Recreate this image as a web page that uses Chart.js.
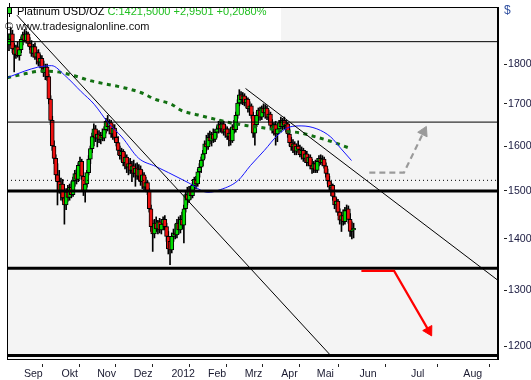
<!DOCTYPE html>
<html><head><meta charset="utf-8">
<script src="https://cdn.jsdelivr.net/npm/chart.js@4/dist/chart.umd.min.js"></script>
<style>html,body{margin:0;padding:0;background:#fff}</style>
</head><body><canvas id="c" width="531" height="380"></canvas>
<script>
// ---- DATA ----
// daily candles [open, high, low, close], x = bar index
const ohlc = [
[1850,1880,1835,1865],[1865,1897,1850,1880],[1880,1890,1830,1840],[1840,1855,1780,1825],[1825,1850,1815,1845],
[1845,1858,1818,1822],[1822,1845,1810,1838],[1838,1872,1830,1865],[1865,1885,1850,1878],[1878,1892,1858,1862],
[1862,1888,1855,1880],[1880,1885,1848,1855],[1855,1870,1838,1845],[1845,1862,1820,1828],[1828,1852,1818,1846],
[1846,1856,1812,1818],[1818,1836,1800,1830],[1830,1838,1795,1805],[1805,1825,1790,1815],[1815,1822,1780,1790],
[1790,1808,1768,1778],[1778,1800,1760,1792],[1792,1800,1758,1768],[1768,1775,1700,1712],[1712,1720,1650,1660],
[1660,1670,1590,1600],[1600,1612,1560,1572],[1572,1580,1525,1535],[1535,1560,1470,1520],[1520,1545,1495,1500],
[1500,1528,1480,1515],[1515,1525,1478,1485],[1485,1500,1430,1470],[1470,1505,1460,1498],[1498,1512,1478,1486],
[1486,1515,1480,1508],[1508,1520,1485,1492],[1492,1530,1488,1522],[1522,1545,1510,1538],[1538,1548,1515,1525],
[1525,1562,1520,1556],[1556,1575,1540,1565],[1565,1570,1525,1532],[1532,1540,1490,1500],[1500,1525,1476,1515],
[1515,1545,1508,1540],[1540,1578,1535,1570],[1570,1600,1560,1594],[1594,1630,1585,1622],[1622,1652,1600,1640],
[1640,1648,1610,1618],[1618,1635,1598,1628],[1628,1636,1608,1615],[1615,1632,1605,1625],[1625,1640,1612,1618],
[1618,1645,1612,1638],[1638,1665,1630,1658],[1658,1672,1635,1645],[1645,1662,1628,1655],[1655,1660,1620,1628],
[1628,1650,1615,1642],[1642,1650,1612,1620],[1620,1635,1600,1608],[1608,1622,1580,1590],[1590,1600,1570,1578],
[1578,1595,1565,1588],[1588,1592,1555,1562],[1562,1585,1548,1575],[1575,1580,1540,1552],[1552,1570,1535,1560],
[1560,1572,1538,1545],[1545,1565,1520,1555],[1555,1568,1530,1538],[1538,1560,1510,1550],[1550,1562,1525,1532],
[1532,1558,1522,1548],[1548,1555,1512,1520],[1520,1545,1505,1535],[1535,1540,1500,1508],[1508,1530,1498,1518],
[1518,1522,1492,1500],[1500,1505,1455,1462],[1462,1470,1415,1425],[1425,1438,1375,1410],[1410,1440,1402,1432],
[1432,1445,1415,1420],[1420,1438,1410,1435],[1435,1442,1412,1418],[1418,1440,1410,1430],[1430,1445,1418,1440],
[1440,1448,1418,1425],[1425,1432,1395,1405],[1405,1415,1370,1380],[1395,1405,1349,1378],[1378,1412,1372,1405],
[1405,1420,1395,1412],[1412,1430,1400,1408],[1408,1440,1402,1432],[1432,1445,1410,1418],[1418,1448,1412,1440],
[1440,1455,1420,1428],[1428,1470,1392,1462],[1462,1500,1455,1492],[1492,1508,1470,1480],[1480,1510,1475,1502],
[1502,1510,1482,1490],[1490,1518,1485,1512],[1512,1530,1500,1525],[1525,1532,1505,1515],[1515,1548,1510,1542],
[1542,1560,1530,1552],[1552,1575,1540,1568],[1568,1590,1555,1582],[1582,1612,1572,1605],[1605,1625,1590,1598],
[1598,1630,1592,1620],[1620,1635,1605,1612],[1612,1632,1600,1628],[1628,1640,1608,1615],[1615,1638,1610,1632],
[1632,1645,1620,1640],[1640,1658,1630,1650],[1650,1662,1632,1640],[1640,1660,1630,1652],[1652,1658,1625,1632],
[1632,1648,1620,1640],[1640,1645,1615,1622],[1622,1640,1600,1630],[1630,1642,1602,1612],[1612,1650,1608,1645],
[1645,1660,1630,1638],[1638,1680,1632,1672],[1672,1710,1665,1702],[1702,1735,1695,1722],[1722,1730,1700,1710],
[1710,1728,1698,1720],[1720,1725,1695,1702],[1702,1718,1690,1712],[1712,1715,1680,1688],[1688,1705,1672,1695],
[1695,1700,1665,1672],[1672,1680,1620,1630],[1630,1660,1602,1650],[1650,1680,1645,1672],[1672,1690,1660,1685],
[1685,1692,1660,1668],[1668,1695,1662,1690],[1690,1700,1672,1678],[1678,1698,1665,1690],[1690,1695,1662,1668],
[1668,1685,1655,1675],[1675,1680,1640,1648],[1648,1662,1630,1638],[1638,1655,1625,1650],[1650,1658,1602,1628],
[1628,1645,1610,1640],[1640,1660,1632,1655],[1655,1668,1640,1645],[1645,1665,1638,1660],[1660,1668,1640,1648],
[1648,1660,1632,1652],[1652,1655,1620,1628],[1628,1640,1600,1608],[1608,1620,1590,1598],[1598,1615,1585,1605],
[1605,1610,1580,1588],[1588,1605,1580,1600],[1600,1612,1585,1592],[1592,1602,1575,1580],[1580,1598,1570,1590],
[1590,1595,1565,1572],[1572,1590,1562,1582],[1582,1588,1555,1562],[1562,1580,1555,1575],[1575,1580,1548,1555],
[1555,1570,1538,1548],[1548,1565,1540,1560],[1560,1568,1540,1545],[1545,1572,1540,1565],[1565,1578,1555,1572],
[1572,1580,1558,1562],[1562,1578,1555,1570],[1570,1575,1550,1555],[1555,1562,1530,1538],[1538,1548,1515,1522],
[1522,1532,1500,1508],[1508,1520,1490,1512],[1512,1515,1480,1488],[1488,1495,1462,1470],[1470,1485,1455,1478],
[1478,1482,1448,1455],[1455,1462,1430,1438],[1438,1455,1415,1448],[1448,1460,1428,1435],[1435,1465,1430,1458],
[1458,1470,1440,1462],[1462,1468,1432,1440],[1440,1452,1405,1415],[1415,1435,1400,1418],[1418,1432,1402,1421.5]
];
const monthLabels = ['Sep','Okt','Nov','Dez','2012','Feb','Mrz','Apr','Mai','Jun','Jul','Aug'];
const monthPos    = [8.6, 30.3, 50.9, 72.0, 93.8, 114.9, 136.1, 157.2, 177.8, 202.4, 232.1, 262.4];
const yTicks = [1200,1300,1400,1500,1600,1700,1800];
// moving averages [x, value]
const maBlue = [[-1.1,1765],[9.1,1782],[16.6,1792],[24.6,1796],[32.0,1772],[41.7,1730],[49.2,1699],[57.7,1652],
  [65.2,1621],[74.9,1572],[84.6,1554],[92.1,1540],[103.5,1518],[114.9,1497],[120.6,1501],[132.1,1522],[139.5,1556],
  [147.5,1590],[154.9,1624],[161.8,1644],[168.7,1647],[177.8,1640],[185.8,1621],[191.5,1595],[197.8,1567]];
const maGreen = [[-1.1,1765],[9.1,1775],[18.9,1782],[28.0,1780],[37.7,1770],[47.5,1757],[66.3,1740],[76.0,1728],
  [84.6,1711],[93.8,1699],[99.5,1684],[109.2,1673],[118.9,1663],[128.1,1654],[138.4,1647],[147.5,1642],[157.8,1635],
  [167.5,1631],[177.2,1621],[186.4,1610],[196.1,1596]];
// horizontal levels
const levelsThin  = [1859, 1656];
const levelsThick = [1500, 1342, 1184];
const levelDotted = [1523];
// trend lines [x, value]
const trendA = [[4.6,1931],[186.4,1182]];
const trendB = [[136.6,1738],[282.4,1319]];
// scenario arrows [x, value]
const arrowUp   = [[208.1,1540],[228.1,1540],[239.5,1633]];
const arrowDown = [[203.5,1337],[222.4,1337],[242.4,1227]];
const titleText = 'Platinum USD/OZ';
const quoteText = 'C:1421,5000 +2,9501 +0,2080%';
const sourceText = '\u00A9 www.tradesignalonline.com';
const unitText = '$';

// ---- CHART ----
const X_MIN = -1.15, X_MAX = 282.4, Y_MIN = 1178, Y_MAX = 1954;
const FONT = '"Liberation Sans", Arial, sans-serif';
const pts = a => a.map(p => ({x: p[0], y: p[1]}));
const hline = v => [{x: X_MIN, y: v}, {x: X_MAX, y: v}];

const wicks = ohlc.map((c, i) => ({x: i, y: [c[2], c[1]]}));
const bodies = ohlc.map((c, i) => ({x: i, y: [Math.min(c[0], c[3]), Math.max(c[0], c[3])]}));
const bodyColors = ohlc.map(c => c[3] >= c[0] ? '#00dd00' : '#ee1111');

const datasets = [];
levelsThin.forEach(v => datasets.push({type:'line', data: hline(v), borderColor:'#000', borderWidth:1, pointRadius:0, order:1}));
levelsThick.forEach(v => datasets.push({type:'line', data: hline(v), borderColor:'#000', borderWidth:3, pointRadius:0, order:1}));
levelDotted.forEach(v => datasets.push({type:'line', data: hline(v), borderColor:'#000', borderWidth:1, borderDash:[1,3], pointRadius:0, order:1}));
datasets.push({type:'line', data: pts(trendA), borderColor:'#000', borderWidth:1, pointRadius:0, order:1});
datasets.push({type:'line', data: pts(trendB), borderColor:'#000', borderWidth:1, pointRadius:0, order:1});
datasets.push({type:'line', data: pts(maBlue), borderColor:'#1515ff', borderWidth:1, pointRadius:0, cubicInterpolationMode:'monotone', order:2});
datasets.push({type:'line', data: pts(maGreen), borderColor:'#127012', borderWidth:3, borderDash:[4,4.5], pointRadius:0, cubicInterpolationMode:'monotone', order:2});
datasets.push({type:'line', data: pts(arrowUp), borderColor:'#9a9a9a', borderWidth:2.2, borderDash:[6,4],
  pointRadius:[0,0,6], pointStyle:'triangle', pointRotation:26, pointBackgroundColor:'#9a9a9a', pointBorderColor:'#9a9a9a', pointBorderWidth:1, order:0});
datasets.push({type:'line', data: pts(arrowDown), borderColor:'#ff0000', borderWidth:2.2,
  pointRadius:[0,0,6], pointStyle:'triangle', pointRotation:151, pointBackgroundColor:'#ff0000', pointBorderColor:'#ff0000', pointBorderWidth:1, order:0});
datasets.push({type:'bar', data: bodies, backgroundColor: bodyColors, borderColor:'#000', borderWidth:1, borderSkipped:false, barThickness:4, grouped:false, minBarLength:1, order:5});
datasets.push({type:'bar', data: wicks, backgroundColor:'#000', borderWidth:0, barThickness:1, grouped:false, order:6});

const decor = {
  id: 'decor',
  beforeDraw(chart) {
    const {ctx, chartArea: a} = chart;
    ctx.save();
    ctx.fillStyle = '#fff'; ctx.fillRect(0, 0, chart.width, chart.height);
    ctx.fillStyle = '#f4f4f4'; ctx.fillRect(a.left, a.top, a.right - a.left, a.bottom - a.top);
    ctx.fillStyle = '#fff'; ctx.fillRect(a.left + 1, a.top + 1, 273, 33);
    ctx.restore();
  },
  beforeDatasetsDraw(chart) {
    const {ctx} = chart;
    ctx.save();
    ctx.strokeStyle = '#000'; ctx.lineWidth = 1;
    ctx.beginPath(); ctx.moveTo(9.5, 3); ctx.lineTo(9.5, 17); ctx.stroke();
    ctx.fillStyle = '#22dd22'; ctx.fillRect(7, 7, 5, 7);
    ctx.strokeRect(7.5, 7.5, 4, 6);
    ctx.font = '11px ' + FONT; ctx.textBaseline = 'alphabetic';
    ctx.fillStyle = '#000'; ctx.fillText(titleText, 17, 14.5);
    const w = ctx.measureText(titleText).width;
    ctx.fillStyle = '#22c022'; ctx.fillText(quoteText, 17 + w + 3, 14.5);
    ctx.fillStyle = '#111'; ctx.fillText(sourceText, 5, 29.5);
    ctx.restore();
  },
  afterDraw(chart) {
    const {ctx, chartArea: a} = chart;
    ctx.save();
    ctx.strokeStyle = '#000'; ctx.lineWidth = 1;
    ctx.strokeRect(a.left + 0.5, a.top + 0.5, a.right - a.left - 1, a.bottom - a.top);
    ctx.font = '12px ' + FONT; ctx.fillStyle = '#3050a0';
    ctx.textBaseline = 'alphabetic';
    ctx.fillText(unitText, a.right + 6, 14);
    ctx.restore();
  }
};

new Chart(document.getElementById('c'), {
  type: 'bar',
  data: { datasets },
  options: {
    responsive: false, animation: false, events: [],
    layout: { padding: { left: 2, top: 1, right: 0, bottom: 0 } },
    plugins: { legend: { display: false }, tooltip: { enabled: false } },
    scales: {
      x: {
        type: 'linear', position: 'bottom', min: X_MIN, max: X_MAX, offset: false,
        grid: { drawOnChartArea: false, drawTicks: true, tickLength: 8, tickBorderDash: [0,4,4,40], tickColor: '#222' },
        border: { display: true, color: '#000', width: 1 },
        ticks: { autoSkip: false, maxRotation: 0, minRotation: 0, align: 'start', padding: 1,
          color: '#1a1a30', font: { family: FONT, size: 10.6 },
          callback: (v, i) => monthLabels[i] },
        afterBuildTicks: s => { s.ticks = monthPos.map(v => ({ value: v })); },
        afterFit: s => { s.height = 21; }
      },
      y: {
        type: 'logarithmic', position: 'right', min: Y_MIN, max: Y_MAX,
        grid: { drawOnChartArea: false, drawTicks: true, tickLength: 10, tickBorderDash: [0,5,3,40], tickColor: '#222' },
        border: { display: true, color: '#000', width: 1 },
        ticks: { padding: 0, color: '#1a1a40', font: { family: FONT, size: 10.6, lineHeight: 0.01 },
          callback: v => String(v) },
        afterBuildTicks: s => { s.ticks = yTicks.map(v => ({ value: v })); },
        afterFit: s => { s.width = 33; }
      }
    }
  },
  plugins: [decor]
});
</script>
</body></html>
